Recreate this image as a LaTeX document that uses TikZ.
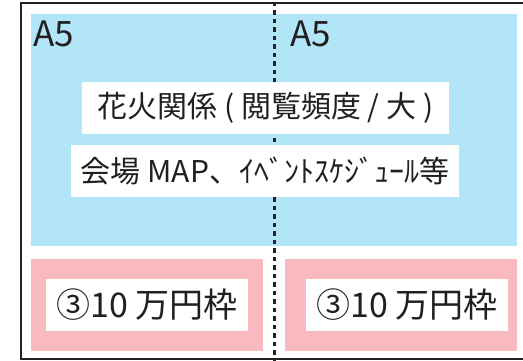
\documentclass[tikz,border=0pt]{standalone}
\usepackage{fontspec}
\setmainfont{Noto Sans CJK JP}
\usetikzlibrary{positioning}

\begin{document}
\begin{tikzpicture}[x=1pt,y=1pt]
    \tikzstyle{blue}  = [shape=rectangle, fill={rgb,255:red,179;green,229;blue,248}, inner sep=0pt]
    \tikzstyle{pink}  = [shape=rectangle, fill={rgb,255:red,248;green,186;blue,190}, inner sep=0pt, minimum width=232, minimum height=92]
    \tikzstyle{label} = [shape=rectangle, fill=white, inner sep=0pt, text={rgb,255:red,35;green,31;blue,32}]
    \tikzstyle{price} = [label, minimum width=202, minimum height=52, font=\fontsize{34}{34}\selectfont]
    \tikzstyle{page}  = [text={rgb,255:red,35;green,31;blue,32}, inner sep=0pt, anchor=base west, font=\fontsize{35}{35}\selectfont]
    \useasboundingbox (0,0) rectangle (523,361);

    \draw [line width=2pt, draw={rgb,255:red,35;green,35;blue,35}] (21,1.5) rectangle (540,358);

    \node (sheet) [blue, minimum width=486, minimum height=232] at (274,231) {};
    \node (left)  [pink] at (147,56) {};
    \node (right) [pink] at (401,56) {};

    % fold line between the two A5 pages
    \coordinate (foldtop) at (274,359);
    \coordinate (foldbot) at (274,0);
    \draw [line width=3pt, draw={rgb,255:red,35;green,35;blue,35}, dash pattern=on 4.5pt off 4pt] (foldtop) -- (foldbot);

    \node (pageA) [page] at (33,314) {A5};
    \node (pageB) [page] at (290,314) {A5};

    \node (fire)  [label, minimum width=367, minimum height=52, font=\fontsize{30}{30}\selectfont] at (265.5,253) {花火関係 ( 閲覧頻度 / 大 )};
    \node (venue) [label, minimum width=388, minimum height=52, font=\fontsize{30}{30}\selectfont] at (265,190) {会場 MAP、ｲﾍﾞﾝﾄｽｹｼﾞｭｰﾙ等};

    \node (costA) [price] at (147,56) {③10 万円枠};
    \node (costB) [price] at (407,56) {③10 万円枠};
\end{tikzpicture}
\end{document}
